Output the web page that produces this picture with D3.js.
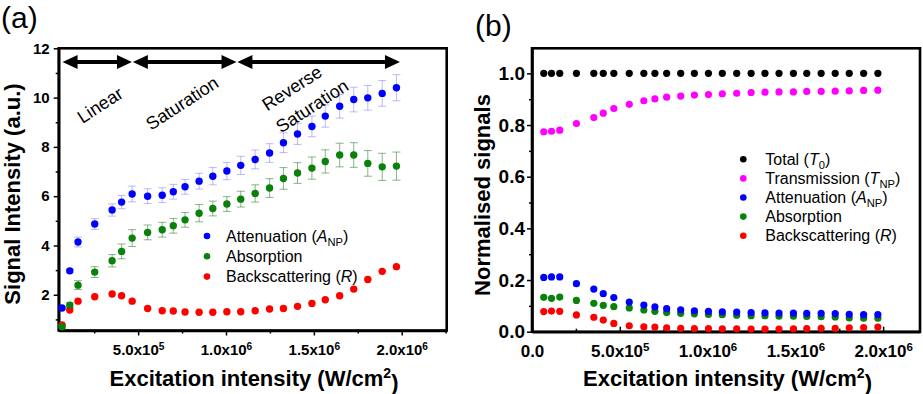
<!DOCTYPE html>
<html>
<head>
<meta charset="utf-8">
<script src="https://cdn.jsdelivr.net/npm/d3@7"></script>
<style>
  body { margin: 0; background: #fff; }
  text { font-family: Arial, "Liberation Sans", sans-serif; }
</style>
</head>
<body>
<svg id="chart" width="923" height="394"></svg>
<script>
// excitation intensity (W/cm2), same points in both panels
var intensity = [6.7e4, 1.11e5, 1.58e5, 2.53e5, 3.52e5, 4.06e5, 4.66e5, 5.54e5, 6.37e5, 7.0e5,
                 7.67e5, 8.47e5, 9.25e5, 1.005e6, 1.084e6, 1.166e6, 1.248e6, 1.327e6, 1.407e6, 1.489e6,
                 1.565e6, 1.647e6, 1.727e6, 1.807e6, 1.889e6, 1.970e6];

// panel (a) - signal intensity (a.u.)
var attenA    = [1.46, 2.97, 4.14, 4.87, 5.44, 5.76, 6.09, 6.00, 6.04, 6.18, 6.38, 6.61, 6.81,
                 7.02, 7.25, 7.49, 7.75, 8.17, 8.52, 8.83, 9.25, 9.65, 9.92, 9.99, 10.17, 10.40];
var attenAErr = [0.05, 0.08, 0.20, 0.22, 0.25, 0.27, 0.32, 0.30, 0.30, 0.30, 0.30, 0.32, 0.35,
                 0.35, 0.37, 0.38, 0.38, 0.40, 0.42, 0.42, 0.45, 0.48, 0.50, 0.50, 0.52, 0.53];
var absA      = [0.70, 1.58, 2.39, 2.92, 3.38, 3.76, 4.30, 4.53, 4.64, 4.80, 5.04, 5.31, 5.50,
                 5.68, 5.88, 6.11, 6.33, 6.72, 6.94, 7.14, 7.41, 7.67, 7.67, 7.33, 7.19, 7.22];
var absAErr   = [0.05, 0.10, 0.18, 0.22, 0.25, 0.30, 0.34, 0.30, 0.30, 0.30, 0.30, 0.35, 0.30,
                 0.30, 0.32, 0.35, 0.38, 0.44, 0.42, 0.45, 0.47, 0.48, 0.50, 0.52, 0.55, 0.57];
var backA     = [0.78, 1.38, 1.74, 1.92, 2.03, 1.96, 1.74, 1.44, 1.35, 1.34, 1.30, 1.29, 1.29,
                 1.31, 1.31, 1.35, 1.42, 1.44, 1.53, 1.65, 1.80, 1.96, 2.23, 2.62, 2.95, 3.14];

// panel (b) - normalised signals
var totalB = [1, 1, 1, 1, 1, 1, 1, 1, 1, 1, 1, 1, 1, 1, 1, 1, 1, 1, 1, 1, 1, 1, 1, 1, 1, 1];
var transB = [0.774, 0.776, 0.780, 0.806, 0.829, 0.846, 0.864, 0.880, 0.894, 0.901, 0.908, 0.912, 0.916,
              0.918, 0.921, 0.923, 0.926, 0.927, 0.928, 0.928, 0.930, 0.930, 0.931, 0.932, 0.934, 0.935];
var attenB = [0.210, 0.212, 0.212, 0.186, 0.165, 0.147, 0.132, 0.115, 0.103, 0.096, 0.089, 0.085, 0.081,
              0.079, 0.077, 0.076, 0.074, 0.073, 0.072, 0.072, 0.071, 0.071, 0.070, 0.067, 0.066, 0.066];
var absB   = [0.133, 0.129, 0.134, 0.121, 0.110, 0.102, 0.097, 0.092, 0.084, 0.079, 0.074, 0.071, 0.069,
              0.067, 0.066, 0.064, 0.062, 0.062, 0.060, 0.060, 0.059, 0.058, 0.057, 0.053, 0.052, 0.052];
var backB  = [0.078, 0.080, 0.079, 0.065, 0.056, 0.045, 0.032, 0.023, 0.019, 0.018, 0.015, 0.013, 0.012,
              0.012, 0.011, 0.011, 0.010, 0.010, 0.010, 0.011, 0.012, 0.013, 0.013, 0.015, 0.016, 0.018];

// regime arrows and labels in panel (a), data units
var regimeArrows = [[7.0e4, 4.65e5], [4.7e5, 1.06e6], [1.065e6, 1.99e6]];
var arrowLevel = 11.44;
var regimeLabels = [
  {text: "Linear",     x: 2.83e5,  y: 9.7},
  {text: "Saturation", x: 7.5e5,   y: 9.78},
  {text: "Reverse",    x: 1.375e6, y: 10.39},
  {text: "Saturation", x: 1.49e6,  y: 9.66}
];

var legendA = [
  {color: "#0000ff", parts: [["Attenuation (", ""], ["A", "i"], ["NP", "sub"], [")", ""]]},
  {color: "#0a820a", parts: [["Absorption", ""]]},
  {color: "#ff0000", parts: [["Backscattering (", ""], ["R", "i"], [")", ""]]}
];
var legendB = [
  {color: "#000000", parts: [["Total (", ""], ["T", "i"], ["0", "sub"], [")", ""]]},
  {color: "#ff00ff", parts: [["Transmission (", ""], ["T", "i"], ["NP", "sub"], [")", ""]]},
  {color: "#0000ff", parts: [["Attenuation (", ""], ["A", "i"], ["NP", "sub"], [")", ""]]},
  {color: "#0a820a", parts: [["Absorption", ""]]},
  {color: "#ff0000", parts: [["Backscattering (", ""], ["R", "i"], [")", ""]]}
];

var svg = d3.select("#chart");

// helper: "5.0x10^5" labels
function sciLabels(sel) {
  sel.selectAll(".tick text").each(function(d) {
    var t = d3.select(this);
    t.text(null);
    if (d === 0) { t.text("0.0"); return; }
    var e = Math.floor(Math.log10(d));
    var m = d / Math.pow(10, e);
    t.append("tspan").text(m.toFixed(1) + "x10");
    t.append("tspan").attr("dy", "-0.5em").attr("font-size", "0.68em").text(e);
  });
}

function legendText(g, parts, size) {
  var t = g.append("text").attr("font-size", size).attr("dy", "0.36em");
  var shifted = false;
  parts.forEach(function(p) {
    var s = t.append("tspan").text(p[0]);
    if (p[1] === "i") s.attr("font-style", "italic");
    if (p[1] === "sub") { s.attr("font-size", size * 0.7).attr("dy", 4); shifted = true; }
    else if (shifted) { s.attr("dy", -4); shifted = false; }
  });
}

function drawPanel(o) {
  var x = d3.scaleLinear().domain(o.xDomain).range([o.left, o.right]);
  var y = d3.scaleLinear().domain(o.yDomain).range([o.bottom, o.top]);
  var g = svg.append("g");

  // x axis major + minor
  var xa = g.append("g").attr("transform", "translate(0," + o.bottom + ")")
    .call(d3.axisBottom(x).tickValues(o.xTicks).tickSize(o.xTickIn ? -5 : 5).tickSizeOuter(0)
      .tickPadding(o.xPad));
  xa.selectAll(".tick text").attr("font-size", o.xTickFont).attr("font-weight", "bold")
    .attr("fill", "#000").attr("y", o.xPad).attr("dy", "0.71em");
  sciLabels(xa);
  g.append("g").attr("transform", "translate(0," + o.bottom + ")")
    .call(d3.axisBottom(x).tickValues(o.xMinor).tickSize(o.xTickIn ? -3 : 3).tickFormat(""))
    .select(".domain").remove();

  // y axis major + minor
  var ya = g.append("g").attr("transform", "translate(" + o.left + ",0)")
    .call(d3.axisLeft(y).tickValues(o.yTicks).tickSize(5).tickSizeOuter(0)
      .tickPadding(o.yPad).tickFormat(d3.format(o.yFormat)));
  ya.selectAll(".tick text").attr("font-size", o.yTickFont).attr("font-weight", "bold").attr("fill", "#000");
  g.append("g").attr("transform", "translate(" + o.left + ",0)")
    .call(d3.axisLeft(y).tickValues(o.yMinor).tickSize(3).tickFormat(""))
    .select(".domain").remove();

  g.selectAll(".tick line").attr("stroke", "#000").attr("stroke-width", 1.5);

  // frame
  g.append("rect").attr("x", o.left).attr("y", o.top)
    .attr("width", o.right - o.left).attr("height", o.bottom - o.top)
    .attr("fill", "none").attr("stroke", "#000").attr("stroke-width", 2.6);
  g.selectAll(".domain").attr("stroke-width", 2.6);

  // error bars
  (o.errors || []).forEach(function(s) {
    var eb = g.append("g").attr("stroke", s.color).attr("stroke-width", 1);
    intensity.forEach(function(xv, i) {
      var lo = y(s.values[i] - s.err[i]), hi = y(s.values[i] + s.err[i]), cx = x(xv);
      eb.append("line").attr("x1", cx).attr("x2", cx).attr("y1", lo).attr("y2", hi);
      eb.append("line").attr("x1", cx - 4).attr("x2", cx + 4).attr("y1", lo).attr("y2", lo);
      eb.append("line").attr("x1", cx - 4).attr("x2", cx + 4).attr("y1", hi).attr("y2", hi);
    });
  });

  // dots
  o.series.forEach(function(s) {
    g.append("g").selectAll("circle").data(s.values).join("circle")
      .attr("cx", function(d, i) { return x(intensity[i]); })
      .attr("cy", function(d) { return y(d); })
      .attr("r", o.r).attr("fill", s.color);
  });

  // legend
  o.legend.forEach(function(l, i) {
    var lg = g.append("g").attr("transform", "translate(" + o.legX + "," + (o.legY + i * o.legDy) + ")");
    lg.append("circle").attr("r", 3.3).attr("fill", l.color);
    legendText(lg.append("g").attr("transform", "translate(" + o.legTextDx + ",0)"), l.parts, 16);
  });

  // axis titles
  var xt = g.append("text").attr("x", o.xTitleX).attr("y", 386).attr("text-anchor", "middle")
    .attr("font-size", 22).attr("font-weight", "bold");
  xt.append("tspan").text("Excitation intensity (W/cm");
  xt.append("tspan").attr("dy", "-0.55em").attr("font-size", 14).text("2");
  xt.append("tspan").attr("dy", "0.55em").text(")");

  g.append("text").attr("transform", "translate(" + o.yTitleX + "," + o.yTitleY + ") rotate(-90)")
    .attr("text-anchor", "middle").attr("font-size", 22).attr("font-weight", "bold")
    .text(o.yTitle);

  g.append("text").attr("x", o.tagX).attr("y", o.tagY).attr("font-size", 30).text(o.tag);

  return {x: x, y: y, g: g};
}

var pa = drawPanel({
  left: 58.7, right: 446.7, top: 48.3, bottom: 330.5,
  xDomain: [4.8e4, 2.256e6], yDomain: [0.55, 12],
  xTicks: [5e5, 1e6, 1.5e6, 2e6], xMinor: [2.5e5, 7.5e5, 1.25e6, 1.75e6, 2.25e6], xPad: 14, xTickFont: 15,
  yTicks: [2, 4, 6, 8, 10, 12], yMinor: [1, 3, 5, 7, 9, 11], yPad: 4, yFormat: "d", yTickFont: 15,
  r: 3.7,
  errors: [
    {values: attenA, err: attenAErr, color: "rgba(60,60,255,0.35)"},
    {values: absA, err: absAErr, color: "rgba(20,110,20,0.5)"}
  ],
  series: [
    {values: backA, color: "#ff0000"},
    {values: attenA, color: "#0000ff"},
    {values: absA, color: "#0a820a"}
  ],
  legend: legendA, legX: 207, legY: 236, legDy: 20.3, legTextDx: 19,
  xTitleX: 254, yTitleX: 20, yTitleY: 194, yTitle: "Signal Intensity (a.u.)",
  tag: "(a)", tagX: 1, tagY: 28
});

// regime arrows
regimeArrows.forEach(function(a) {
  var x0 = pa.x(a[0]), x1 = pa.x(a[1]), yy = pa.y(arrowLevel), h = 15, w = 7;
  pa.g.append("line").attr("x1", x0 + h - 2).attr("x2", x1 - h + 2).attr("y1", yy).attr("y2", yy)
    .attr("stroke", "#000").attr("stroke-width", 4);
  pa.g.append("path").attr("fill", "#000")
    .attr("d", "M" + x0 + "," + yy + "L" + (x0 + h) + "," + (yy - w) + "L" + (x0 + h) + "," + (yy + w) + "Z" +
               "M" + x1 + "," + yy + "L" + (x1 - h) + "," + (yy - w) + "L" + (x1 - h) + "," + (yy + w) + "Z");
});
regimeLabels.forEach(function(l) {
  pa.g.append("text")
    .attr("transform", "translate(" + pa.x(l.x) + "," + pa.y(l.y) + ") rotate(-33)")
    .attr("text-anchor", "middle").attr("dy", "0.35em").attr("font-size", 18).text(l.text);
});

drawPanel({
  left: 532, right: 920, top: 48.3, bottom: 331.7,
  xDomain: [0, 2.21e6], yDomain: [0, 1.097],
  xTicks: [0, 5e5, 1e6, 1.5e6, 2e6], xMinor: [2.5e5, 7.5e5, 1.25e6, 1.75e6], xPad: 13, xTickFont: 17, xTickIn: true,
  yTicks: [0, 0.2, 0.4, 0.6, 0.8, 1.0], yMinor: [0.1, 0.3, 0.5, 0.7, 0.9], yPad: 2, yFormat: ".1f", yTickFont: 19,
  r: 3.6,
  series: [
    {values: totalB, color: "#000000"},
    {values: transB, color: "#ff00ff"},
    {values: backB, color: "#ff0000"},
    {values: absB, color: "#0a820a"},
    {values: attenB, color: "#0000ff"}
  ],
  legend: legendB, legX: 743.3, legY: 159.3, legDy: 19.1, legTextDx: 22,
  xTitleX: 727.5, yTitleX: 490, yTitleY: 195, yTitle: "Normalised signals",
  tag: "(b)", tagX: 475, tagY: 36
});
</script>
</body>
</html>
